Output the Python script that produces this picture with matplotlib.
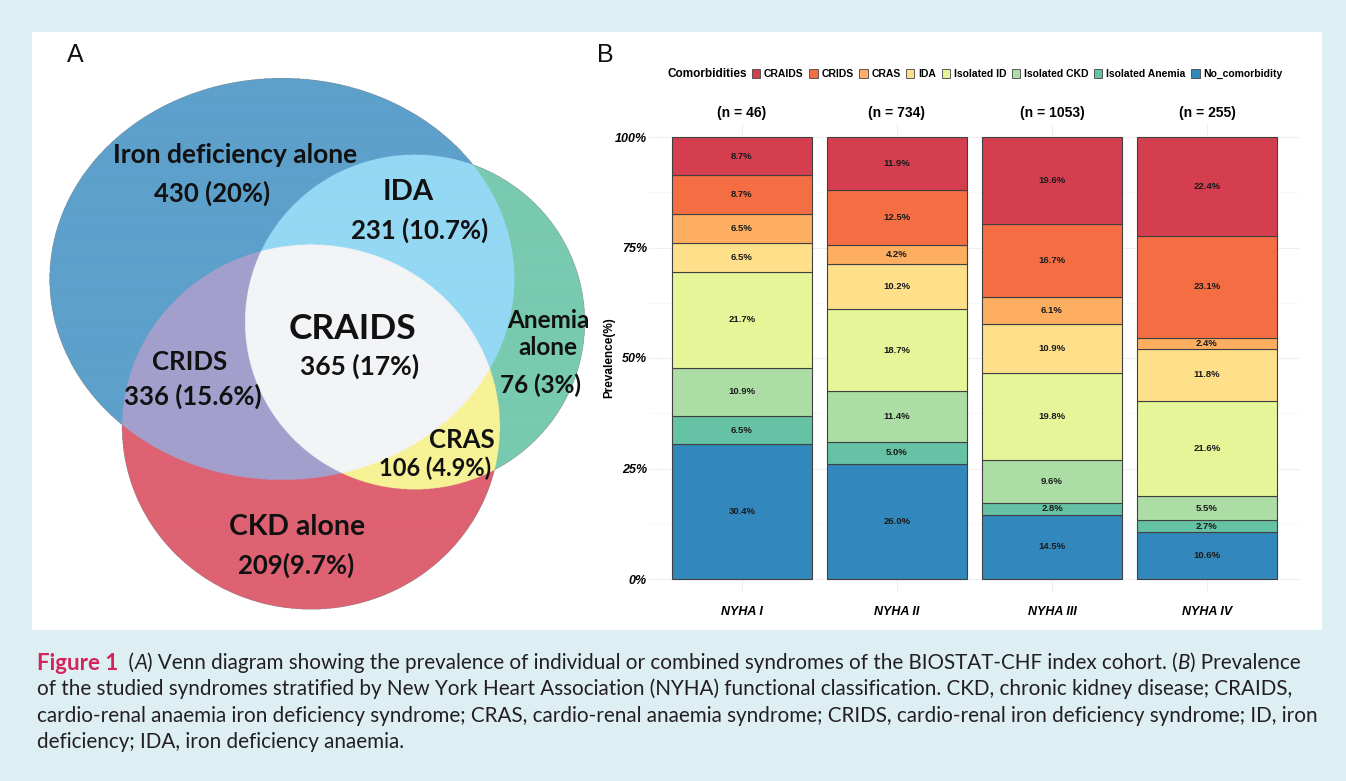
import matplotlib.pyplot as plt
import numpy as np
from matplotlib.patches import Rectangle, Patch

# ---- data ----
groups = ['NYHA I', 'NYHA II', 'NYHA III', 'NYHA IV']
n_labels = ['(n = 46)', '(n = 734)', '(n = 1053)', '(n = 255)']
# stacking order, bottom -> top
cats = ['No_comorbidity', 'Isolated Anemia', 'Isolated CKD', 'Isolated ID',
        'IDA', 'CRAS', 'CRIDS', 'CRAIDS']
no_comorbidity = [30.4, 26.0, 14.5, 10.6]
isolated_anemia = [6.5, 5.0, 2.8, 2.7]
isolated_ckd = [10.9, 11.4, 9.6, 5.5]
isolated_id = [21.7, 18.7, 19.8, 21.6]
ida = [6.5, 10.2, 10.9, 11.8]
cras = [6.5, 4.2, 6.1, 2.4]
crids = [8.7, 12.5, 16.7, 23.1]
craids = [8.7, 11.9, 19.6, 22.4]
cat_colors = ['#3288BD', '#66C2A5', '#ABDDA4', '#E6F598',
              '#FEE08B', '#FDAE61', '#F46D43', '#D53E4F']

venn_labels = {
    'iron': ('Iron deficiency alone', '430 (20%)'),
    'ida': ('IDA', '231 (10.7%)'),
    'craids': ('CRAIDS', '365 (17%)'),
    'crids': ('CRIDS', '336 (15.6%)'),
    'anemia': ('Anemia\nalone', '76 (3%)'),
    'cras': ('CRAS', '106 (4.9%)'),
    'ckd': ('CKD alone', '209(9.7%)'),
}

caption = [
    [('Figure 1', 'fig'), ('  (', 'n'), ('A', 'i'),
     (') Venn diagram showing the prevalence of individual or combined syndromes of the BIOSTAT-CHF index cohort. (', 'n'),
     ('B', 'i'), (') Prevalence', 'n')],
    [('of the studied syndromes stratified by New York Heart Association (NYHA) functional classification. CKD, chronic kidney disease; CRAIDS,', 'n')],
    [('cardio-renal anaemia iron deficiency syndrome; CRAS, cardio-renal anaemia syndrome; CRIDS, cardio-renal iron deficiency syndrome; ID, iron', 'n')],
    [('deficiency; IDA, iron deficiency anaemia.', 'n')],
]

W, H = 1346, 781
fig = plt.figure(figsize=(W / 100, H / 100), dpi=100)

# background axes in pixel coordinates
bg = fig.add_axes([0, 0, 1, 1], zorder=0)
bg.axis('off')
bg.add_patch(Rectangle((0, 0), W, H, fc='#DEEFF4', ec='none'))
bg.add_patch(Rectangle((32, 32), 1290, 598, fc='white', ec='none'))

# ---- panel A: Venn ----
xs = np.linspace(40, 600, 1400)
ys = np.linspace(60, 625, 1400)
X, Y = np.meshgrid(xs, ys)
B = ((X - 282) / 232.5) ** 2 + ((Y - 279) / 201) ** 2 <= 1
R = ((X - 311) / 189) ** 2 + ((Y - 427) / 182.5) ** 2 <= 1
G = ((X - 415) / 170) ** 2 + ((Y - 322) / 167.5) ** 2 <= 1

def rgba(h):
    h = h.lstrip('#')
    return [int(h[i:i + 2], 16) / 255 for i in (0, 2, 4)] + [1.0]

img = np.zeros(X.shape + (4,))
img[B & ~R & ~G] = rgba('#5DA0CB')
img[R & ~B & ~G] = rgba('#DE6272')
img[G & ~B & ~R] = rgba('#78CAB0')
img[B & G & ~R] = rgba('#94D8F4')
img[B & R & ~G] = rgba('#A39FCC')
img[R & G & ~B] = rgba('#F7F296')
img[B & R & G] = rgba('#F2F4F6')
bg.imshow(img, extent=(40, 600, 625, 60), interpolation='antialiased', zorder=1)
bg.set_xlim(0, W)
bg.set_ylim(H, 0)
bg.set_aspect('auto')

vf = dict(family=['Lato', 'DejaVu Sans'], weight='bold', ha='center', va='center',
          color='#111111', zorder=3)
bg.text(235, 155, venn_labels['iron'][0], fontsize=19, **vf)
bg.text(212, 193, venn_labels['iron'][1], fontsize=18.5, **vf)
bg.text(408, 192, venn_labels['ida'][0], fontsize=21, **vf)
bg.text(420, 230, venn_labels['ida'][1], fontsize=18.5, **vf)
bg.text(352, 329, venn_labels['craids'][0], fontsize=25.5, **vf)
bg.text(360, 366, venn_labels['craids'][1], fontsize=19, **vf)
bg.text(190, 362, venn_labels['crids'][0], fontsize=18.5, **vf)
bg.text(193, 396, venn_labels['crids'][1], fontsize=18.5, **vf)
bg.text(548, 334, venn_labels['anemia'][0], fontsize=17.5, linespacing=1.2, **vf)
bg.text(540, 385, venn_labels['anemia'][1], fontsize=17.5, **vf)
bg.text(462, 440, venn_labels['cras'][0], fontsize=18.5, **vf)
bg.text(435, 468, venn_labels['cras'][1], fontsize=17, **vf)
bg.text(297, 527, venn_labels['ckd'][0], fontsize=20.5, **vf)
bg.text(296, 565, venn_labels['ckd'][1], fontsize=18.5, **vf)

bg.text(75, 55, 'A', fontsize=18, family=['Liberation Sans', 'DejaVu Sans'],
        ha='center', va='center', color='#111111')
bg.text(605, 55, 'B', fontsize=18, family=['Liberation Sans', 'DejaVu Sans'],
        ha='center', va='center', color='#111111')

# ---- panel B: stacked bars ----
narrow = ['Liberation Sans Narrow', 'Liberation Sans', 'DejaVu Sans']
data = np.array([no_comorbidity, isolated_anemia, isolated_ckd, isolated_id,
                 ida, cras, crids, craids])
pct = data / data.sum(axis=0) * 100

ylo, yhi = -3, 103
px_per = (579 - 137) / 100
ax_bot = 579 + (0 - ylo) * px_per
ax_top = 137 - (yhi - 100) * px_per
ax = fig.add_axes([649 / W, 1 - ax_bot / H, (1300 - 649) / W, (ax_bot - ax_top) / H], zorder=2)
ax.set_facecolor('none')
x = np.arange(1, len(groups) + 1)
bottom = np.zeros(len(groups))
for i, c in enumerate(cats):
    bars = ax.bar(x, pct[i], bottom=bottom, width=0.9, color=cat_colors[i],
                  edgecolor='#404040', linewidth=0.8, label=c, zorder=2)
    ax.bar_label(bars, labels=['%.1f%%' % v for v in data[i]], label_type='center',
                 fontsize=6.8, fontweight='bold', family=narrow, color='#1a1a1a')
    bottom += pct[i]

ax.set_xlim(0.4, 4.6)
ax.set_ylim(ylo, yhi)
ax.set_yticks([0, 25, 50, 75, 100])
ax.set_yticklabels(['0%', '25%', '50%', '75%', '100%'], fontsize=9, fontweight='bold',
                   fontstyle='italic', family=narrow)
ax.set_yticks([12.5, 37.5, 62.5, 87.5], minor=True)
ax.set_xticks(x)
ax.set_xticklabels(groups, fontsize=9, fontweight='bold', fontstyle='italic', family=narrow)
ax.tick_params(axis='both', which='both', length=0)
ax.tick_params(axis='y', pad=1.5)
ax.tick_params(axis='x', pad=10)
ax.grid(True, which='major', color='#EFEFEF', linewidth=0.8, zorder=0)
ax.grid(True, which='minor', axis='y', color='#F5F5F5', linewidth=0.5, zorder=0)
ax.set_axisbelow(True)
for s in ax.spines.values():
    s.set_visible(False)
ax.set_ylabel('Prevalence(%)', fontsize=8.5, fontweight='bold',
              family=['Liberation Sans', 'DejaVu Sans'], labelpad=0)
for xi, t in zip(x, n_labels):
    ax.text(xi, 105.5, t, ha='center', va='center', fontsize=10, fontweight='bold',
            family=narrow, clip_on=False)

# legend
bg.text(667, 74, 'Comorbidities', ha='left', va='center', fontsize=8.5, fontweight='bold',
        family=narrow, zorder=3)
handles = [Patch(facecolor=cat_colors[i], edgecolor='#444444', linewidth=0.6, label=cats[i])
           for i in range(len(cats) - 1, -1, -1)]
fig.legend(handles=handles, loc='center left', bbox_to_anchor=(752 / W, 1 - 74 / H),
           ncol=8, frameon=False, handlelength=0.8, handleheight=0.9, handletextpad=0.35,
           columnspacing=0.55, borderpad=0, borderaxespad=0,
           prop=dict(family=narrow, weight='bold', size=7.5))

# ---- caption ----
renderer = fig.canvas.get_renderer()
cap_font = ['Lato', 'DejaVu Sans']

def line_width(pieces, size):
    total = 0
    for txt, sty in pieces:
        kw = dict(fontsize=size, family=cap_font)
        if sty == 'fig':
            kw.update(weight='bold', fontsize=size * 1.08)
        elif sty == 'i':
            kw.update(style='italic')
        t = bg.text(0, 0, txt, **kw)
        total += t.get_window_extent(renderer).width
        t.remove()
    return total

cap_size = min(14 * (1320 - 37) / line_width(p, 14) for p in caption[:3])
line_y = [663, 689, 716, 742]
for pieces, yy in zip(caption, line_y):
    cx = 37
    for txt, sty in pieces:
        kw = dict(fontsize=cap_size, family=cap_font, color='#231F20', va='center', ha='left')
        if sty == 'fig':
            kw.update(color='#D4235A', weight='bold', fontsize=cap_size * 1.08)
        elif sty == 'i':
            kw.update(style='italic')
        t = bg.text(cx, yy, txt, **kw)
        cx += t.get_window_extent(renderer).width

fig.savefig('out.png', dpi=100)
